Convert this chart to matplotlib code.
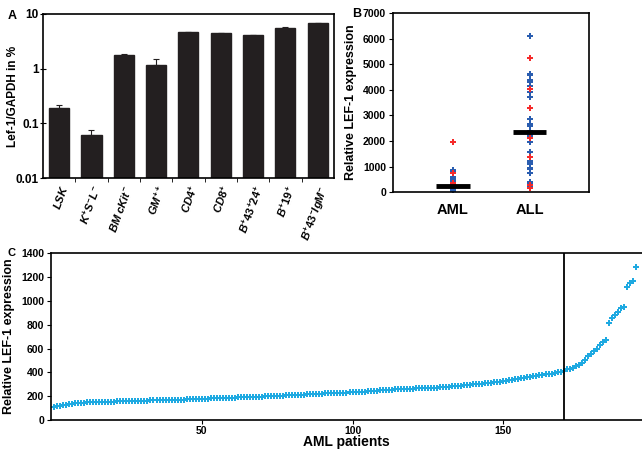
import matplotlib
matplotlib.use('Agg')
import matplotlib.pyplot as plt
import numpy as np

plt.rcParams['font.family'] = ['Liberation Sans', 'DejaVu Sans']
plt.rcParams['font.weight'] = 'bold'
plt.rcParams['mathtext.fontset'] = 'custom'
plt.rcParams['mathtext.rm'] = 'Liberation Sans:bold'
plt.rcParams['mathtext.it'] = 'Liberation Sans:italic:bold'
plt.rcParams['axes.linewidth'] = 1.2

# ---- panel A: Lef-1/GAPDH ----
cells = [r'$\mathit{LSK}$', r'$\mathit{K^{+}S^{-}L^{-}}$', r'$\mathit{BM\ cKit^{-}}$',
         r'$\mathit{GM^{++}}$', r'$\mathit{CD4^{+}}$', r'$\mathit{CD8^{+}}$',
         r'$\mathit{B^{+}43^{+}24^{+}}$', r'$\mathit{B^{+}19^{+}}$', r'$\mathit{B^{+}43^{-}IgM^{-}}$']
lef_mean = [0.19, 0.062, 1.8, 1.15, 4.7, 4.5, 4.1, 5.6, 6.7]
lef_err = [0.03, 0.013, 0.05, 0.38, 0.05, 0.08, 0.06, 0.12, 0.15]

# ---- panel B: AML vs ALL ----
aml_blue = [870, 800, 600, 520, 450, 400, 300, 250, 200, 150, 100, 80, 50]
aml_red = [1950, 750, 350, 270]
all_blue = [6100, 4620, 4580, 4400, 4300, 4150, 3900, 3700, 2850, 2650, 2600,
            2400, 2350, 2300, 2250, 2200, 1950, 1550, 1200, 1150, 1100, 950,
            900, 750, 400, 300, 250, 200]
all_red = [5230, 4030, 3270, 2100, 1380, 270, 150]
medians = [230, 2350]

# ---- panel C: sorted AML patients ----
aml_sorted = [
    112, 116, 120, 126, 130, 133, 136, 139, 141, 144,
    146, 148, 149, 150, 151, 152, 152, 153, 154, 154,
    155, 156, 157, 158, 158, 159, 160, 160, 161, 162,
    162, 163, 164, 165, 165, 166, 167, 167, 168, 169,
    170, 170, 171, 172, 173, 174, 175, 176, 177, 178,
    179, 180, 181, 182, 183, 184, 185, 185, 186, 187,
    188, 189, 190, 191, 192, 193, 194, 195, 196, 197,
    198, 199, 200, 201, 202, 204, 205, 206, 207, 208,
    210, 211, 212, 214, 215, 216, 218, 219, 220, 222,
    223, 224, 225, 226, 227, 228, 229, 230, 231, 232,
    234, 235, 237, 238, 240, 242, 244, 246, 248, 250,
    252, 254, 256, 258, 259, 260, 261, 262, 263, 264,
    265, 266, 267, 268, 269, 270, 271, 272, 274, 276,
    278, 280, 282, 284, 286, 288, 290, 292, 295, 298,
    300, 303, 306, 308, 310, 312, 315, 318, 322, 326,
    330, 334, 338, 342, 346, 350, 354, 358, 362, 366,
    370, 374, 378, 382, 386, 390, 395, 400, 405, 412,
    425, 432, 440, 450, 460, 475, 505, 535, 555, 575,
    600, 630, 655, 675, 815, 860, 880, 905, 940, 945,
    1120, 1150, 1170, 1280,
]
cutoff = 170

fig = plt.figure(figsize=(6.42, 4.51), dpi=100, facecolor='white')

# A
ax = fig.add_axes([0.067, 0.605, 0.453, 0.364])
pos = np.arange(len(cells))
ax.bar(pos, lef_mean, 0.62, color='#231f20', edgecolor='#231f20',
       yerr=[np.zeros(len(lef_err)), lef_err], capsize=2,
       error_kw=dict(ecolor='#231f20', lw=0.8, capthick=0.8))
ax.set_yscale('log')
ax.set_ylim(0.01, 10)
ax.set_xlim(-0.5, len(cells) - 0.5)
ax.set_yticks([0.01, 0.1, 1, 10])
ax.set_yticklabels(['0.01', '0.1', '1', '10'], fontsize=8.5)
ax.yaxis.set_minor_locator(matplotlib.ticker.NullLocator())
ax.set_xticks(pos)
ax.set_xticklabels(cells, rotation=70, ha='right', rotation_mode='anchor', fontsize=8)
ax.tick_params(axis='x', length=0, pad=4)
ax.set_xticks(pos[:-1] + 0.5, minor=True)
ax.tick_params(axis='x', which='minor', length=3, direction='out')
ax.tick_params(axis='y', length=4, direction='inout', pad=1)
ax.set_ylabel('Lef-1/GAPDH in %', fontsize=8.5, fontweight='bold')
ax.yaxis.set_label_coords(-0.082, 0.5)
fig.text(0.012, 0.965, 'A', fontsize=9, fontweight='bold', va='center')

# B
ax = fig.add_axes([0.612, 0.574, 0.305, 0.397])
blue, red = '#2a5db0', '#f52a2a'
ax.plot([1] * len(aml_blue), aml_blue, 'P', color=blue, ms=3.8, mew=0, zorder=2)
ax.plot([1] * len(aml_red), aml_red, 'P', color=red, ms=3.8, mew=0, zorder=2)
ax.plot([2] * len(all_blue), all_blue, 'P', color=blue, ms=3.8, mew=0, zorder=2)
ax.plot([2] * len(all_red), all_red, 'P', color=red, ms=3.8, mew=0, zorder=2)
for i, m in enumerate(medians):
    ax.hlines(m, i + 1 - 0.22, i + 1 + 0.22, color='black', lw=3.5, zorder=3)
ax.set_xlim(0.22, 2.77)
ax.set_ylim(0, 7000)
ax.set_yticks(range(0, 7001, 1000))
ax.tick_params(axis='y', labelsize=7.5, length=3, direction='out', pad=2)
ax.set_xticks([1, 2])
ax.set_xticklabels(['AML', 'ALL'], fontsize=10.5, fontweight='bold')
ax.tick_params(axis='x', length=0, pad=8)
ax.set_ylabel('Relative LEF-1 expression', fontsize=9, fontweight='bold', labelpad=4)
fig.text(0.548, 0.968, 'B', fontsize=9, fontweight='bold', va='center')

# C
ax = fig.add_axes([0.0794, 0.0687, 0.9206, 0.370])
patients = np.arange(1, len(aml_sorted) + 1)
ax.plot(patients, aml_sorted, 'P', color='#1ea9e1', ms=3.8, mew=0)
ax.axvline(cutoff, color='black', lw=1.3)
ax.set_xlim(0, 196)
ax.set_ylim(0, 1400)
ax.set_xticks([50, 100, 150])
ax.set_yticks(range(0, 1401, 200))
ax.tick_params(labelsize=7.5, length=3, direction='out', pad=2)
ax.tick_params(axis='x', pad=1)
ax.spines['right'].set_visible(False)
ax.set_xlabel('AML patients', fontsize=10, fontweight='bold')
ax.xaxis.set_label_coords(0.5, -0.092)
ax.set_ylabel('Relative LEF-1 expression', fontsize=9, fontweight='bold', labelpad=4)
fig.text(0.012, 0.44, 'C', fontsize=8, fontweight='bold', va='center')

fig.savefig('out.png', dpi=100, facecolor='white')
